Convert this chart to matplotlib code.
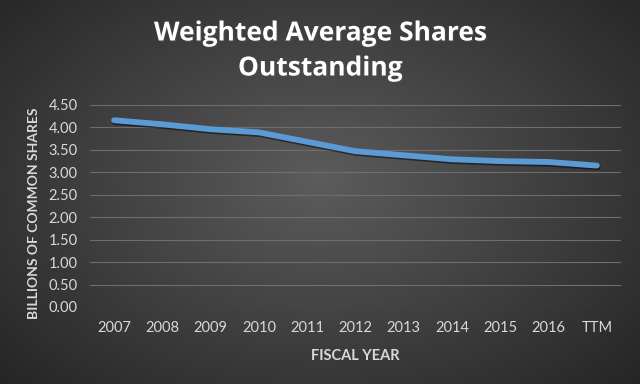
import numpy as np
import matplotlib
matplotlib.use("Agg")
import matplotlib.pyplot as plt
import matplotlib.patheffects as pe

# Data (billions of shares)
years = ["2007", "2008", "2009", "2010", "2011", "2012",
         "2013", "2014", "2015", "2016", "TTM"]
shares = [4.16, 4.07, 3.96, 3.89, 3.68, 3.47, 3.38, 3.29, 3.25, 3.23, 3.15]
y_ticks = [0.0, 0.5, 1.0, 1.5, 2.0, 2.5, 3.0, 3.5, 4.0, 4.5]

fig = plt.figure(figsize=(6.4, 3.84), dpi=100)

# radial gradient background
bg = fig.add_axes([0, 0, 1, 1])
gx, gy = np.meshgrid(np.linspace(-1, 1, 640), np.linspace(-1, 1, 384))
r = np.sqrt(gx ** 2 + (gy * 0.9 + 0.05) ** 2)
r = np.clip(r / 1.35, 0, 1)
shade = 0.36 - 0.21 * r
bg.imshow(np.dstack([shade, shade, shade]), aspect="auto", extent=[0, 1, 0, 1])
bg.set_axis_off()

ax = fig.add_axes([90 / 640, 1 - 307 / 384, 531 / 640, 202 / 384])
ax.patch.set_alpha(0)
x = np.arange(len(years))
ax.plot(x, shares, color="#5b9bd5", lw=4.2, solid_capstyle="round",
        solid_joinstyle="round", zorder=3,
        path_effects=[pe.SimpleLineShadow(offset=(0.5, -1.2), shadow_color="black", alpha=0.5),
                      pe.Normal()])

ax.set_xlim(-0.5, len(years) - 0.5)
ax.set_ylim(0, 4.5)
ax.set_xticks(x)
ax.set_xticklabels(years)
ax.set_yticks(y_ticks)
ax.set_yticklabels([f"{v:.2f}" for v in y_ticks])
ax.grid(axis="y", color="#6e6e6e", lw=0.8)
ax.set_axisbelow(True)
for s in ax.spines.values():
    s.set_visible(False)
ax.tick_params(length=0, colors="#d9d9d9", labelsize=10.5)
ax.tick_params(axis="x", pad=10)
ax.tick_params(axis="y", pad=9)
for lab in ax.get_xticklabels() + ax.get_yticklabels():
    lab.set_family("Lato")

ax.set_xlabel("FISCAL YEAR", color="#d9d9d9", fontsize=10.5, fontweight="bold",
              family="Lato", labelpad=10)
ax.set_ylabel("BILLIONS OF COMMON SHARES", color="#d9d9d9", fontsize=10,
              fontweight="bold", family="Lato")
ax.yaxis.set_label_coords(-50 / 531, 0.465)

fig.text(0.5, 1 - 33 / 384, "Weighted Average Shares", ha="center", va="center",
         color="white", fontsize=19, fontweight="bold", family="Open Sans",
         path_effects=[pe.withSimplePatchShadow(offset=(1, -1), alpha=0.6)])
fig.text(0.5, 1 - 68 / 384, "Outstanding", ha="center", va="center",
         color="white", fontsize=19, fontweight="bold", family="Open Sans",
         path_effects=[pe.withSimplePatchShadow(offset=(1, -1), alpha=0.6)])

fig.savefig("out.png", dpi=100)
